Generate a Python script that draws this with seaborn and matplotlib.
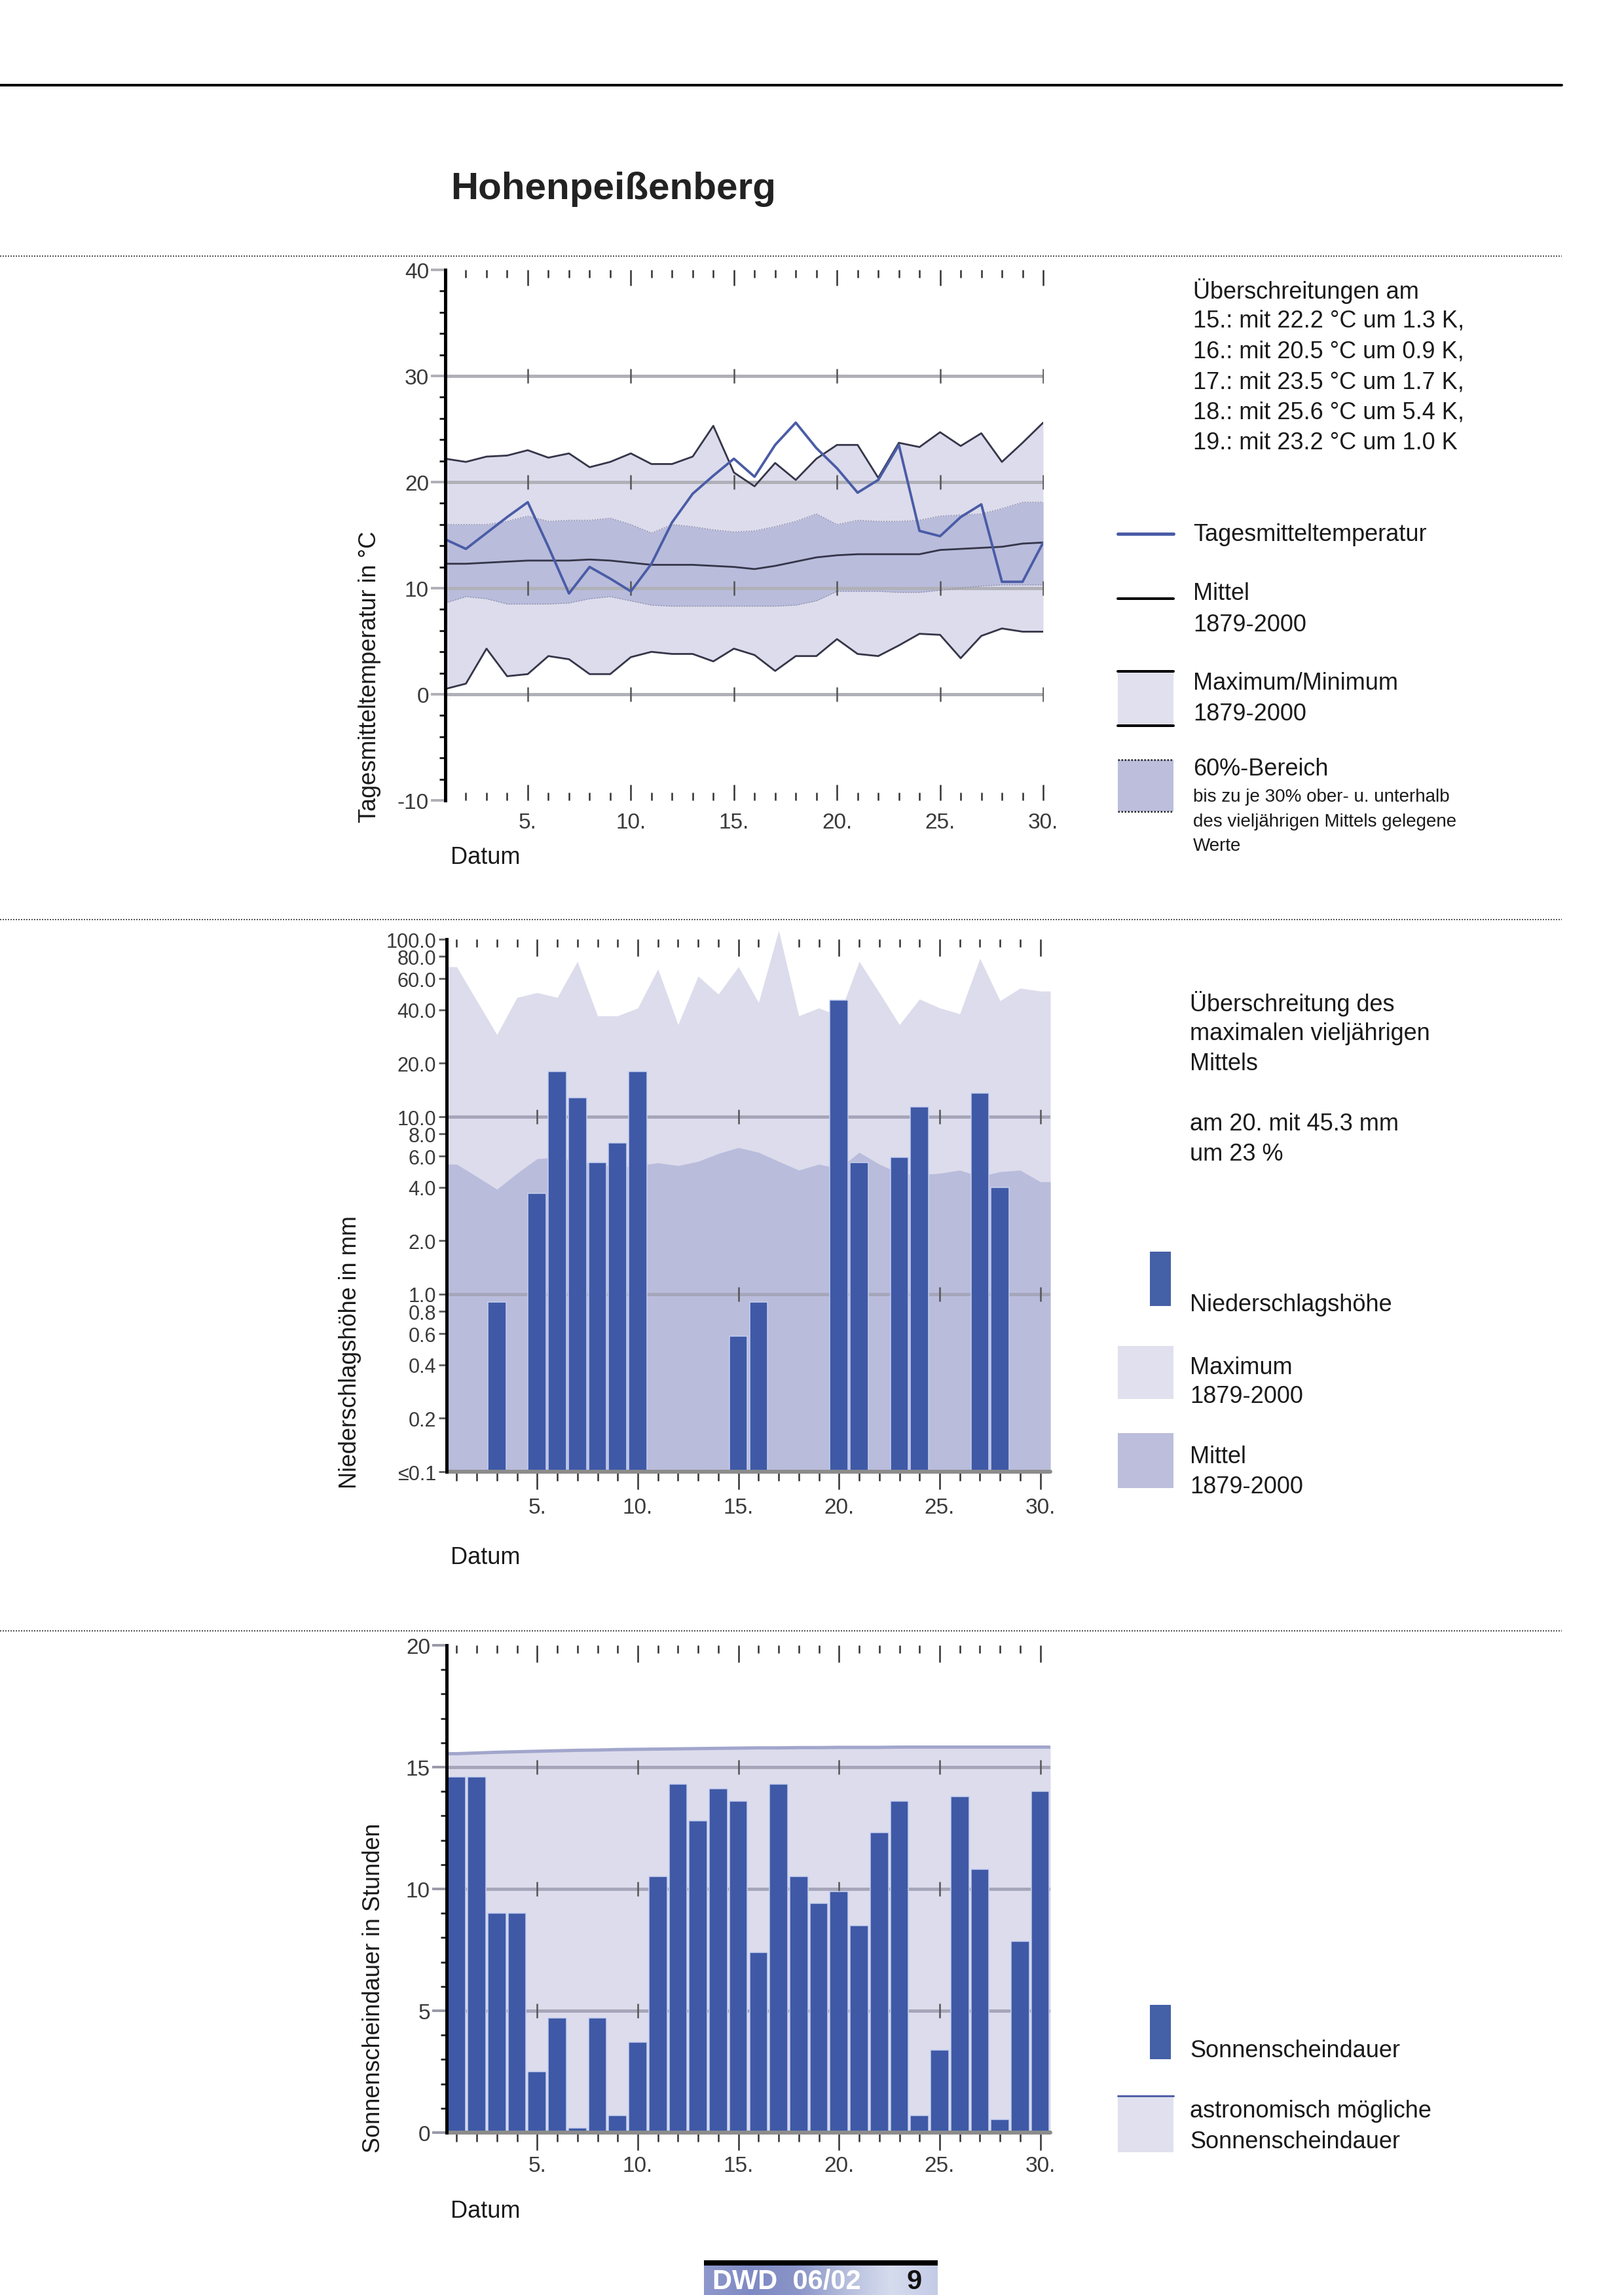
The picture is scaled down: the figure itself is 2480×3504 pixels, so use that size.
import numpy as np
import matplotlib
matplotlib.use("Agg")
import matplotlib.pyplot as plt
import seaborn as sns
from matplotlib.patches import Rectangle
from matplotlib.lines import Line2D
from matplotlib.ticker import FixedLocator, NullLocator
from matplotlib.colors import LinearSegmentedColormap

# ---------------- data ----------------
days = list(range(1, 31))
major_days = [5, 10, 15, 20, 25, 30]
major_day_labels = ["5.", "10.", "15.", "20.", "25.", "30."]

temp_daily = [14.6, 13.7, 15.2, 16.7, 18.1, 13.9, 9.5, 12.0, 10.9, 9.7,
              12.3, 16.2, 18.9, 20.6, 22.2, 20.5, 23.5, 25.6, 23.2, 21.3,
              19.0, 20.2, 23.5, 15.4, 14.9, 16.7, 17.9, 10.6, 10.6, 14.3]
temp_max = [22.2, 21.9, 22.4, 22.5, 23.0, 22.3, 22.7, 21.4, 21.9, 22.7,
            21.7, 21.7, 22.4, 25.3, 20.9, 19.6, 21.8, 20.2, 22.2, 23.5,
            23.5, 20.4, 23.7, 23.3, 24.7, 23.4, 24.6, 21.9, 23.7, 25.6]
temp_min = [0.5, 1.0, 4.3, 1.7, 1.9, 3.6, 3.3, 1.9, 1.9, 3.5,
            4.0, 3.8, 3.8, 3.1, 4.3, 3.7, 2.2, 3.6, 3.6, 5.2,
            3.8, 3.6, 4.6, 5.7, 5.6, 3.4, 5.5, 6.2, 5.9, 5.9]
temp_avg = [12.3, 12.3, 12.4, 12.5, 12.6, 12.6, 12.6, 12.7, 12.6, 12.4,
            12.2, 12.2, 12.2, 12.1, 12.0, 11.8, 12.1, 12.5, 12.9, 13.1,
            13.2, 13.2, 13.2, 13.2, 13.6, 13.7, 13.8, 13.9, 14.2, 14.3]
temp_p80 = [16.0, 16.0, 16.0, 16.3, 16.8, 16.3, 16.4, 16.4, 16.6, 16.0,
            15.2, 16.0, 15.8, 15.5, 15.3, 15.4, 15.8, 16.3, 17.0, 16.0,
            16.4, 16.3, 16.3, 16.4, 16.8, 16.9, 17.0, 17.5, 18.1, 18.1]
temp_p20 = [8.6, 9.2, 9.0, 8.5, 8.5, 8.5, 8.6, 9.0, 9.2, 8.8,
            8.4, 8.3, 8.3, 8.3, 8.3, 8.3, 8.3, 8.4, 8.8, 9.7,
            9.7, 9.7, 9.6, 9.6, 9.8, 10.0, 10.2, 10.3, 10.3, 10.3]
temp_yticks = [-10, 0, 10, 20, 30, 40]
temp_yminor = [-8, -6, -4, -2, 2, 4, 6, 8, 12, 14, 16, 18, 22, 24, 26, 28, 32, 34, 36, 38]
temp_grid = [0, 10, 20, 30]

precip = [0, 0, 0.9, 0, 3.7, 18.0, 12.8, 5.5, 7.1, 18.0,
          0, 0, 0, 0, 0.58, 0.9, 0, 0, 0, 45.3,
          5.5, 0, 5.9, 11.4, 0, 0, 13.6, 4.0, 0, 0]
precip_max = [70, 45, 29, 47, 50, 47, 75, 37, 37, 41,
              68, 33, 62, 49, 70, 44, 112, 37, 41, 37,
              75, 50, 33, 46, 41, 38, 78, 45, 53, 51]
precip_mean = [5.4, 4.6, 3.9, 4.8, 5.8, 5.9, 5.6, 5.4, 5.2, 5.3,
               5.5, 5.3, 5.6, 6.2, 6.7, 6.3, 5.6, 5.0, 5.4, 5.1,
               6.3, 5.4, 4.8, 4.7, 4.8, 5.0, 4.6, 4.9, 5.0, 4.3]
precip_yticks = [0.1, 0.2, 0.4, 0.6, 0.8, 1, 2, 4, 6, 8, 10, 20, 40, 60, 80, 100]
precip_ylabels = ["≤0.1", "0.2", "0.4", "0.6", "0.8", "1.0", "2.0", "4.0", "6.0",
                  "8.0", "10.0", "20.0", "40.0", "60.0", "80.0", "100.0"]
precip_grid = [1, 10]

sun = [14.6, 14.6, 9.0, 9.0, 2.5, 4.7, 0.2, 4.7, 0.7, 3.7,
       10.5, 14.3, 12.8, 14.1, 13.6, 7.4, 14.3, 10.5, 9.4, 9.9,
       8.5, 12.3, 13.6, 0.7, 3.4, 13.8, 10.8, 0.55, 7.85, 14.0]
sun_astro = [15.55, 15.58, 15.61, 15.63, 15.65, 15.67, 15.69, 15.70, 15.72, 15.73,
             15.74, 15.75, 15.76, 15.77, 15.78, 15.79, 15.79, 15.80, 15.80, 15.81,
             15.81, 15.81, 15.82, 15.82, 15.82, 15.82, 15.82, 15.82, 15.82, 15.82]
sun_yticks = [0, 5, 10, 15, 20]
sun_yminor = [1, 2, 3, 4, 6, 7, 8, 9, 11, 12, 13, 14, 16, 17, 18, 19]
sun_grid = [5, 10, 15]

title = "Hohenpeißenberg"
temp_notes = ["Überschreitungen am",
              "15.: mit 22.2 °C um 1.3 K,",
              "16.: mit 20.5 °C um 0.9 K,",
              "17.: mit 23.5 °C um 1.7 K,",
              "18.: mit 25.6 °C um 5.4 K,",
              "19.: mit 23.2 °C um 1.0 K"]
precip_notes = ["Überschreitung des", "maximalen vieljährigen", "Mittels",
                "", "am 20. mit 45.3 mm", "um 23 %"]

# ---------------- style ----------------
W, H = 2480, 3505
C_LIGHT = "#dcdcec"
C_BAND = "#b9bcdb"
C_BAR = "#3f59a6"
C_BLUE = "#4a5ca6"
C_LINE = "#36364a"
C_GRID = "#b0b0b8"
C_TICKLAB = "#3a3a3a"
C_TEXT = "#1a1a1a"
TICK_FS = 24

sns.set_theme(style="white")
plt.rcParams["font.family"] = ["Liberation Sans", "DejaVu Sans"]

fig = plt.figure(figsize=(W / 100, H / 100), dpi=100)


def fx(x):
    return x / W


def fy(y):
    return 1 - y / H


def pt(p):
    return p * 72 / 100


def add_ax(l, t, r, b):
    a = fig.add_axes([fx(l), fy(b), (r - l) / W, (b - t) / H])
    a.set_facecolor("none")
    return a


def hline(x0, x1, y, lw, color, ls="-"):
    fig.add_artist(Line2D([fx(x0), fx(x1)], [fy(y), fy(y)], color=color,
                          lw=pt(lw), ls=ls, transform=fig.transFigure))


def rect(x0, y0, x1, y1, color):
    fig.add_artist(Rectangle((fx(x0), fy(y1)), (x1 - x0) / W, (y1 - y0) / H,
                             facecolor=color, edgecolor="none",
                             transform=fig.transFigure))


def txt(x, y, s, size=26, **kw):
    kw.setdefault("color", C_TEXT)
    fig.text(fx(x), fy(y), s, fontsize=size, va="center", ha="left", **kw)


def top_ticks(ax):
    sec = ax.secondary_xaxis("top")
    sec.set_xticks(major_days)
    sec.set_xticks(days, minor=True)
    sec.spines["top"].set_visible(False)
    sec.tick_params(which="both", direction="in", top=True, labeltop=False,
                    color="#333333", width=pt(2.5))
    sec.tick_params(which="major", length=pt(26))
    sec.tick_params(which="minor", length=pt(12))
    return sec


def grid_marks(ax, levels):
    for g in levels:
        ax.plot(major_days, [g] * len(major_days), ls="none", marker="|",
                ms=pt(22), mew=pt(2.5), color="#555555", zorder=2.2)


# ---------------- page decoration ----------------
hline(0, 2385, 131, 4, "black")
for yy in (392, 1405, 2491):
    hline(0, 2385, yy, 2, "#555555", ls=(0, (1, 1)))
txt(688, 289, title, size=42, fontweight="bold", color="#222222")

# ---------------- temperature ----------------
ax = add_ax(680, 413, 1593, 1223)
ax.fill_between(days, temp_min, temp_max, color=C_LIGHT, lw=0, zorder=1)
ax.fill_between(days, temp_p20, temp_p80, color=C_BAND, lw=0, zorder=1.2)
for g in temp_grid:
    ax.axhline(g, color=C_GRID, lw=pt(5), zorder=1.5)
grid_marks(ax, temp_grid)
sns.lineplot(x=days, y=temp_p80, ax=ax, color="#8a8aa6", lw=pt(1.5), linestyle=":", zorder=1.6)
sns.lineplot(x=days, y=temp_p20, ax=ax, color="#8a8aa6", lw=pt(1.5), linestyle=":", zorder=1.6)
sns.lineplot(x=days, y=temp_max, ax=ax, color=C_LINE, lw=pt(2.8), zorder=3)
sns.lineplot(x=days, y=temp_min, ax=ax, color=C_LINE, lw=pt(2.8), zorder=3)
sns.lineplot(x=days, y=temp_avg, ax=ax, color=C_LINE, lw=pt(2.8), zorder=3)
sns.lineplot(x=days, y=temp_daily, ax=ax, color=C_BLUE, lw=pt(3.8), zorder=4)
ax.set_xlim(1, 30)
ax.set_ylim(-10, 40)
ax.set_xlabel("")
ax.set_ylabel("")
for s in ("top", "right", "bottom"):
    ax.spines[s].set_visible(False)
ax.spines["left"].set_color("black")
ax.spines["left"].set_linewidth(pt(5))
ax.spines["left"].set_zorder(6)
ax.set_yticks(temp_yticks)
ax.set_yticklabels([str(v) for v in temp_yticks])
ax.yaxis.set_minor_locator(FixedLocator(temp_yminor))
ax.tick_params(axis="y", which="both", left=True, direction="out")
ax.tick_params(axis="y", which="major", length=pt(22), width=pt(4), color=C_GRID,
               labelsize=TICK_FS, labelcolor=C_TICKLAB, pad=pt(3))
ax.tick_params(axis="y", which="minor", length=pt(9), width=pt(3), color="#222222")
ax.set_xticks(major_days)
ax.set_xticklabels(major_day_labels)
ax.xaxis.set_minor_locator(FixedLocator(days))
ax.tick_params(axis="x", which="both", direction="in", top=True, bottom=True,
               color="#333333", width=pt(2.5))
ax.tick_params(axis="x", which="major", length=pt(24), labelsize=TICK_FS,
               labelcolor=C_TICKLAB, pad=pt(18))
ax.tick_params(axis="x", which="minor", length=pt(12))

fig.text(fx(564), fy(1256), "Tagesmitteltemperatur in °C", rotation=90,
         fontsize=26, ha="center", va="bottom", color=C_TEXT)
txt(688, 1310, "Datum")

# temperature legend
for i, s in enumerate(temp_notes):
    txt(1822, 444 + i * 46.5, s)
hline(1707, 1792, 816, 5, C_BLUE)
txt(1822, 816, "Tagesmitteltemperatur")
hline(1707, 1792, 915, 4, "black")
txt(1822, 906, "Mittel")
txt(1822, 954, "1879-2000")
rect(1707, 1026, 1792, 1109, "#e0e0ee")
hline(1707, 1792, 1026, 4, "black")
hline(1707, 1792, 1109, 4, "black")
txt(1822, 1044, "Maximum/Minimum")
txt(1822, 1091, "1879-2000")
rect(1707, 1161, 1792, 1240, "#bcbedc")
hline(1707, 1792, 1161, 2.5, "#222222", ls=(0, (1, 1)))
hline(1707, 1792, 1240, 2.5, "#222222", ls=(0, (1, 1)))
txt(1822, 1175, "60%-Bereich")
txt(1822, 1217, "bis zu je 30% ober- u. unterhalb", size=20)
txt(1822, 1255, "des vieljährigen Mittels gelegene", size=20)
txt(1822, 1292, "Werte", size=20)

# ---------------- precipitation ----------------
ax2 = add_ax(682, 1435, 1604, 2248)
x_ext = [0.5] + days + [30.5]
pmax_ext = [precip_max[0]] + precip_max + [precip_max[-1]]
pmean_ext = [precip_mean[0]] + precip_mean + [precip_mean[-1]]
rain_days = [d for d, v in zip(days, precip) if v > 0]
rain_vals = [v for v in precip if v > 0]
sns.barplot(x=rain_days, y=rain_vals, native_scale=True, width=0.9, color=C_BAR,
            saturation=1, edgecolor="#c8d1f0", linewidth=pt(1.5), errorbar=None,
            ax=ax2, zorder=3)
ax2.set_yscale("log")
ax2.fill_between(x_ext, 0.1, pmax_ext, color=C_LIGHT, lw=0, zorder=1, clip_on=False)
ax2.fill_between(x_ext, 0.1, pmean_ext, color=C_BAND, lw=0, zorder=1.2)
for g in precip_grid:
    ax2.axhline(g, color="#a6a6ba", lw=pt(5), zorder=2)
grid_marks(ax2, precip_grid)
ax2.axhline(0.1, color="#8c8c8c", lw=pt(6), zorder=5, clip_on=False)
ax2.set_xlim(0.5, 30.5)
ax2.set_ylim(0.1, 100)
ax2.set_xlabel("")
ax2.set_ylabel("")
for s in ("top", "right", "bottom"):
    ax2.spines[s].set_visible(False)
ax2.spines["left"].set_color("black")
ax2.spines["left"].set_linewidth(pt(5))
ax2.spines["left"].set_zorder(6)
ax2.set_yticks(precip_yticks)
ax2.set_yticklabels(precip_ylabels)
ax2.yaxis.set_minor_locator(NullLocator())
ax2.tick_params(axis="y", which="major", left=True, direction="out", length=pt(12),
                width=pt(3), color="#666666", labelsize=22, labelcolor=C_TICKLAB, pad=pt(4))
ax2.set_xticks(major_days)
ax2.set_xticklabels(major_day_labels)
ax2.xaxis.set_minor_locator(FixedLocator(days))
ax2.tick_params(axis="x", which="both", direction="out", bottom=True, top=False,
                color="#333333", width=pt(2.5))
ax2.tick_params(axis="x", which="major", length=pt(27), labelsize=TICK_FS,
                labelcolor=C_TICKLAB, pad=pt(12))
ax2.tick_params(axis="x", which="minor", length=pt(14))
top_ticks(ax2)

fig.text(fx(534), fy(2273), "Niederschlagshöhe in mm", rotation=90,
         fontsize=26, ha="center", va="bottom", color=C_TEXT)
txt(688, 2379, "Datum")

for i, s in enumerate(precip_notes):
    if s:
        txt(1817, 1533 + i * 46, s)
rect(1756, 1912, 1788, 1995, "#4460a6")
txt(1817, 1993, "Niederschlagshöhe")
rect(1707, 2056, 1792, 2137, "#e0e0ee")
txt(1817, 2088, "Maximum")
txt(1817, 2133, "1879-2000")
rect(1707, 2189, 1792, 2273, "#bcbedc")
txt(1817, 2225, "Mittel")
txt(1817, 2270, "1879-2000")

# ---------------- sunshine ----------------
ax3 = add_ax(682, 2513, 1604, 3257)
astro_ext = [sun_astro[0]] + sun_astro + [sun_astro[-1]]
ax3.fill_between(x_ext, 0, astro_ext, color=C_LIGHT, lw=0, zorder=1)
sns.lineplot(x=x_ext, y=astro_ext, ax=ax3, color="#a2a6cc", lw=pt(5), zorder=1.3)
for g in sun_grid:
    ax3.axhline(g, color="#a6a6ba", lw=pt(5), zorder=2)
grid_marks(ax3, sun_grid)
sns.barplot(x=days, y=sun, native_scale=True, width=0.9, color=C_BAR,
            saturation=1, edgecolor="#c8d1f0", linewidth=pt(1.5), errorbar=None,
            ax=ax3, zorder=3)
ax3.axhline(0, color="#8c8c8c", lw=pt(6), zorder=5, clip_on=False)
ax3.set_xlim(0.5, 30.5)
ax3.set_ylim(0, 20)
ax3.set_xlabel("")
ax3.set_ylabel("")
for s in ("top", "right", "bottom"):
    ax3.spines[s].set_visible(False)
ax3.spines["left"].set_color("black")
ax3.spines["left"].set_linewidth(pt(5))
ax3.spines["left"].set_zorder(6)
ax3.set_yticks(sun_yticks)
ax3.set_yticklabels([str(v) for v in sun_yticks])
ax3.yaxis.set_minor_locator(FixedLocator(sun_yminor))
ax3.tick_params(axis="y", which="both", left=True, direction="out")
ax3.tick_params(axis="y", which="major", length=pt(22), width=pt(4), color="#9a9aa8",
                labelsize=TICK_FS, labelcolor=C_TICKLAB, pad=pt(3))
ax3.tick_params(axis="y", which="minor", length=pt(9), width=pt(3), color="#333333")
ax3.set_xticks(major_days)
ax3.set_xticklabels(major_day_labels)
ax3.xaxis.set_minor_locator(FixedLocator(days))
ax3.tick_params(axis="x", which="both", direction="out", bottom=True, top=False,
                color="#333333", width=pt(2.5))
ax3.tick_params(axis="x", which="major", length=pt(27), labelsize=TICK_FS,
                labelcolor=C_TICKLAB, pad=pt(8))
ax3.tick_params(axis="x", which="minor", length=pt(14))
top_ticks(ax3)

fig.text(fx(570), fy(3287), "Sonnenscheindauer in Stunden", rotation=90,
         fontsize=26, ha="center", va="bottom", color=C_TEXT)
txt(688, 3377, "Datum")

rect(1756, 3062, 1788, 3145, "#4460a6")
txt(1817, 3132, "Sonnenscheindauer")
rect(1707, 3201, 1792, 3287, "#e0e0ee")
hline(1707, 1792, 3201, 3, "#5060a8")
txt(1817, 3224, "astronomisch mögliche")
txt(1817, 3271, "Sonnenscheindauer")

# ---------------- footer ----------------
fax = add_ax(1075, 3459, 1432, 3505)
grad = np.linspace(0, 1, 256).reshape(1, -1)
cmap = LinearSegmentedColormap.from_list(
    "ftr", ["#8e98cc", "#7f8ac4", "#8a94c8", "#b4bcdc", "#d6dcee", "#c4cbe6"])
fax.imshow(grad, aspect="auto", cmap=cmap, extent=[0, 1, 0, 1])
fax.set_axis_off()
rect(1075, 3452, 1432, 3460, "black")
txt(1088, 3484, "DWD  06/02", size=30, fontweight="bold", color="white")
txt(1385, 3484, "9", size=30, fontweight="bold", color="#111111")

fig.savefig("out.png", dpi=100)
